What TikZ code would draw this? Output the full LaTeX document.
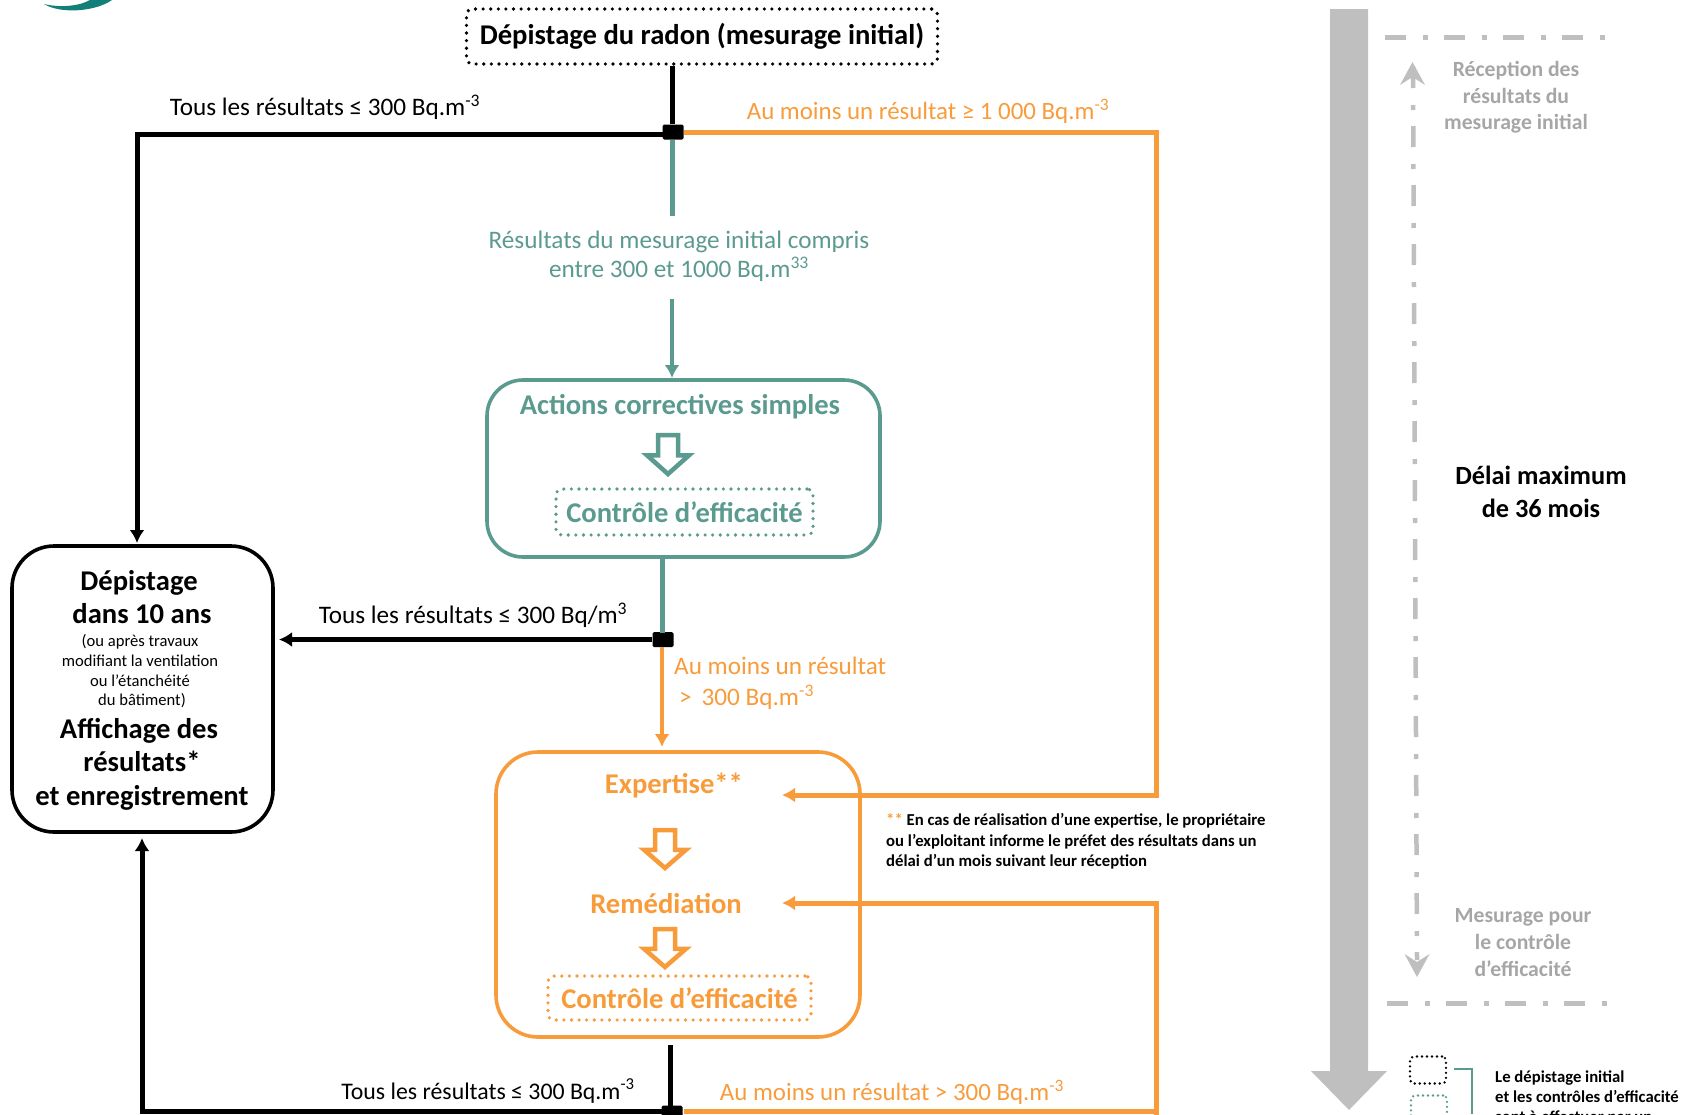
\documentclass[tikz,border=0pt]{standalone}
\usepackage{fontspec}
\setmainfont{Carlito}
\usetikzlibrary{arrows.meta,calc}
\definecolor{tealc}{HTML}{5B9A8F}
\definecolor{orangec}{HTML}{F89C3B}
\definecolor{grayc}{HTML}{BFBFBF}
\definecolor{graytxt}{HTML}{A6A6A6}
\definecolor{logoc}{HTML}{128079}
\newcommand{\fsz}[1]{\fontsize{#1}{#1}\selectfont}
\tikzset{
  x=1pt,y=-1pt,
  boxn/.style={draw,rounded corners=#1,line width=3.6pt,inner sep=0pt,align=center},
  dotbox/.style={draw,rounded corners=6pt,line width=3.6pt,line cap=round,dash pattern=on 0pt off 7.6pt,inner sep=0pt,align=center},
  lab/.style={inner sep=0pt,font=\fsz{25.2},align=center,anchor=center},
  labl/.style={inner sep=0pt,font=\fsz{25.2},align=left,anchor=west},
  head/.style={inner sep=0pt,font=\bfseries\fsz{28.6},align=center},
  boxline/.style={inner sep=0pt,font=\bfseries\fsz{28.6},anchor=base},
  smallline/.style={inner sep=0pt,font=\fsz{16.6},anchor=base},
  greytext/.style={inner sep=0pt,font=\bfseries\fsz{21.7},text=graytxt,align=center},
  junction/.style={fill=black,draw=none,rounded corners=1.5pt,inner sep=0pt,minimum width=21pt,minimum height=15pt},
  hollow/.style={draw=#1,fill=white,line width=4.5pt,line join=miter},
  dashdot/.style={draw=grayc,dash pattern=on 21pt off 17pt on 5pt off 16pt},
  tip/.style={-{Latex[length=13pt,width=15pt]}},
}
\newcommand{\hollowarrow}[4]{% color, x, ytop, ybottom
  \path[hollow=#1] (#2-10,#3)--(#2+10,#3)--(#2+10,{#3+0.52*(#4-#3)})--(#2+21,{#3+0.52*(#4-#3)})--(#2,#4)--(#2-21,{#3+0.52*(#4-#3)})--(#2-10,{#3+0.52*(#4-#3)})--cycle;}
\begin{document}
\begin{tikzpicture}
\useasboundingbox (0,0) rectangle (1694,1114);
\begin{scope}
\clip (0,0) rectangle (1694,1114);
% logo
\fill[logoc] (44,4) .. controls (60,14) and (95,12) .. (112,0) -- (90,0) .. controls (80,6) and (60,8) .. (44,4) -- cycle;

% top box
\node[dotbox,minimum width=471pt,minimum height=55pt,font=\bfseries\fsz{28.6}] (top) at (702,36.5) {Dépistage du radon (mesurage initial)};
\node[junction] (j1) at (673,132) {};
% labels top
\node[lab] (l1) at (325,107) {Tous les résultats ≤ 300 Bq.m\textsuperscript{-3}};
\node[lab,text=orangec,font=\fsz{24.9}] (l2) at (928,111) {Au moins un résultat ≥ 1 000 Bq.m\textsuperscript{-3}};
\node[lab,text=tealc] (l3) at (679,256) {Résultats du mesurage initial compris\\[4pt]entre 300 et 1000 Bq.m\textsuperscript{33}};

% teal box
\node[boxn=36pt,draw=tealc,minimum width=393pt,minimum height=177pt] (tb) at (683.5,468.5) {};
\node[head,text=tealc] (t1) at (680,407) {Actions correctives simples};
\hollowarrow{tealc}{668}{435}{474}
\node[dotbox,draw=tealc,text=tealc,minimum width=257pt,minimum height=46pt,font=\bfseries\fsz{28.6}] (t2) at (684.5,512) {Contrôle d’efficacité};

% left box
\node[boxn=42pt,draw=black,minimum width=261pt,minimum height=286pt] (lb) at (142.5,689) {};
\node[boxline] (a1) at (139,590) {Dépistage};
\node[boxline] (a2) at (142,623) {dans 10 ans};
\node[smallline] (a3) at (140,646) {(ou après travaux};
\node[smallline] (a4) at (140,666) {modifiant la ventilation};
\node[smallline] (a5) at (140,686) {ou l’étanchéité};
\node[smallline] (a6) at (142,705) {du bâtiment)};
\node[boxline] (a7) at (139,738) {Affichage des};
\node[boxline] (a8) at (142,771) {résultats*};
\node[boxline] (a9) at (142,805) {et enregistrement};

% mid
\node[junction] (j2) at (663,639.5) {};
\node[lab] (l4) at (473,615) {Tous les résultats ≤ 300 Bq/m\textsuperscript{3}};
\node[labl,text=orangec] (l5) at (674,666) {Au moins un résultat};
\node[labl,text=orangec] (l6) at (679,697) {>\, 300 Bq.m\textsuperscript{-3}};

% orange box
\node[boxn=42pt,draw=orangec,minimum width=364pt,minimum height=285pt] (ob) at (678,894.5) {};
\node[head,text=orangec] (o1) at (674,786) {Expertise**};
\hollowarrow{orangec}{665}{830}{868}
\node[head,text=orangec] (o2) at (666,904) {Remédiation};
\hollowarrow{orangec}{665}{929}{967}
\node[dotbox,draw=orangec,text=orangec,minimum width=263pt,minimum height=44pt,font=\bfseries\fsz{28.6}] (o3) at (679.5,998) {Contrôle d’efficacité};

% note
\node[inner sep=0pt,anchor=west,align=left,font=\bfseries\fsz{16.7}] (note) at (886,841) {\textcolor{orangec}{**} En cas de réalisation d’une expertise, le propriétaire\\[5pt]ou l’exploitant informe le préfet des résultats dans un\\[2.7pt]délai d’un mois suivant leur réception};

% bottom
\node[junction] (j3) at (672,1113) {};
\node[lab,font=\fsz{23.8}] (l7) at (488,1091) {Tous les résultats ≤ 300 Bq.m\textsuperscript{-3}};
\node[lab,text=orangec,font=\fsz{24.9}] (l8) at (892,1092) {Au moins un résultat > 300 Bq.m\textsuperscript{-3}};

% connectors
\coordinate (tealgap1) at (672,216);
\coordinate (tealgap2) at (672,299);
\coordinate (j1b) at (665,134);
\coordinate (lbtop) at (137,543);
\coordinate (lbbot) at (142,838);
\coordinate (expin) at (782,795);
\coordinate (remin) at (782,903);
\coordinate (rtx) at (1156,132);
\coordinate (rbx) at (1156,1130);
\coordinate (rmx) at (1156,903);
\coordinate (botstart) at (670,1045);
\coordinate (botend) at (670,1114);
\coordinate (j3b) at (665,1111);
\coordinate (ob1) at (684,1111);
\coordinate (ob2) at (1156,1111);
\coordinate (tbout) at (662,557);
\coordinate (j2t) at (662,633);
\coordinate (j2b) at (662,647);
\coordinate (obin) at (662,747);
\coordinate (lbr) at (279,639.5);

\draw[line width=5pt] (top.south -| j1) ++(-1,0) -- (j1.north -| tealgap1);
\draw[line width=5pt,line join=miter,tip] (j1b) -| (lbtop);
\draw[line width=5pt,draw=tealc] (j1.south -| tealgap1) -- (tealgap1);
\draw[line width=4.5pt,draw=tealc,tip] (tealgap2) -- (672,378);
\draw[line width=5pt,draw=orangec,line join=miter,tip] (j1.east) -- (rtx) |- (expin);
\draw[line width=5pt,draw=tealc] (tbout) -- (j2t);
\draw[line width=5pt,tip] (j2.west) -- (lbr);
\draw[line width=4.5pt,draw=orangec,tip] (j2b) -- (obin);
\draw[line width=5pt,draw=orangec,line join=miter,tip] (rbx) -- (rmx) -- (remin);
\draw[line width=5pt,draw=orangec] (ob1) -- (ob2);
\draw[line width=5pt] (botstart) -- (botend);
\draw[line width=5pt,line join=miter,tip] (j3b) -| (lbbot);

% right column
\fill[grayc] (1330,9) -- (1368,9) -- (1368,1071) -- (1387,1071) -- (1349,1110) -- (1311,1071) -- (1330,1071) -- cycle;
\draw[dashdot,line width=5pt] (1385,37) -- (1607,37);
\draw[dashdot,line width=5pt] (1387,1003) -- (1607,1003);
\draw[dashdot,line width=4.5pt] (1413,67) -- (1417,960);
\fill[grayc] (1412.5,62) -- (1425,85) -- (1412.5,77) -- (1400,85) -- cycle;
\fill[grayc] (1417,977) -- (1429.5,954) -- (1417,962) -- (1404.5,954) -- cycle;
\node[greytext] (g1) at (1516,97.5) {Réception des\\[5pt]résultats du\\[5pt]mesurage initial};
\node[inner sep=0pt,font=\bfseries\fsz{26.3},align=center] (g2) at (1541,492) {Délai maximum\\[7pt]de 36 mois};
\node[greytext] (g3) at (1523,942.5) {Mesurage pour\\[5pt]le contrôle\\[5pt]d’efficacité};

% legend
\node[dotbox,rounded corners=4pt,line width=2.6pt,dash pattern=on 0pt off 5pt,minimum width=36pt,minimum height=27pt] (k1) at (1428,1070) {};
\node[dotbox,rounded corners=4pt,line width=2.6pt,dash pattern=on 0pt off 5pt,draw=tealc,minimum width=36pt,minimum height=27pt] (k2) at (1429,1109) {};
\draw[draw=tealc,line width=1.8pt] (1454,1069) -- (1472,1069) -- (1472,1114);
\node[inner sep=0pt,anchor=north west,align=left,font=\bfseries\fsz{16.7}] (k3) at (1495,1071) {Le dépistage initial\\[3.3pt]et les contrôles d’efficacité\\[3.3pt]sont à effectuer par un};
\end{scope}
\end{tikzpicture}
\end{document}
